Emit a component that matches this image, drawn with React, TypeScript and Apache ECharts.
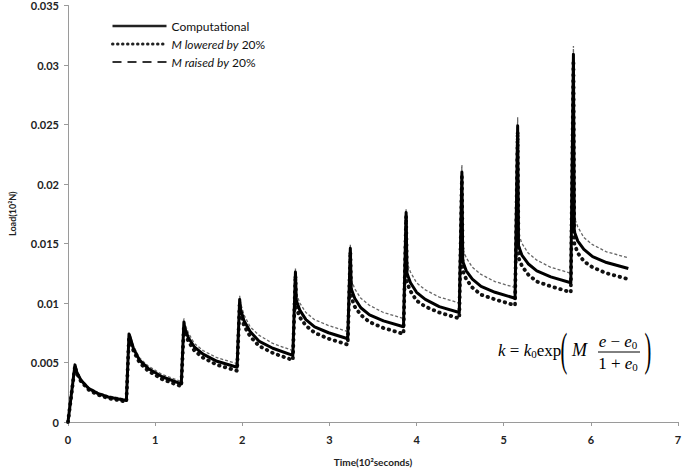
import React, { useEffect, useRef } from "react";
import * as echarts from "echarts";

const time = [
  0, 0.08, 0.1, 0.15, 0.24, 0.34, 0.46, 0.67,
  0.7, 0.71, 0.75, 0.82, 0.92, 1.08, 1.3,
  1.33, 1.34, 1.38, 1.45, 1.55, 1.71, 1.94,
  1.97, 1.98, 2.02, 2.09, 2.19, 2.35, 2.58,
  2.61, 2.62, 2.66, 2.73, 2.83, 2.99, 3.21,
  3.24, 3.25, 3.29, 3.36, 3.46, 3.62, 3.85,
  3.88, 3.89, 3.93, 4.0, 4.1, 4.26, 4.49,
  4.52, 4.53, 4.57, 4.64, 4.74, 4.9, 5.13,
  5.16, 5.17, 5.21, 5.28, 5.38, 5.54, 5.77,
  5.8, 5.81, 5.85, 5.92, 6.02, 6.18, 6.43,
];

const computational = [
  0, 0.0048, 0.0042, 0.0035, 0.0028, 0.0024, 0.0021, 0.0018,
  0.0074, 0.0072, 0.0062, 0.0052, 0.0045, 0.0038, 0.0032,
  0.0084, 0.0079, 0.0071, 0.0063, 0.0057, 0.0051, 0.0046,
  0.0103, 0.0095, 0.0085, 0.0076, 0.0068, 0.0062, 0.0056,
  0.0126, 0.0102, 0.0094, 0.0086, 0.008, 0.0075, 0.007,
  0.0146, 0.0112, 0.0104, 0.0096, 0.009, 0.0085, 0.008,
  0.0176, 0.0125, 0.0117, 0.0109, 0.0103, 0.0097, 0.0092,
  0.021, 0.0135, 0.0127, 0.012, 0.0114, 0.0109, 0.0104,
  0.0249, 0.0148, 0.014, 0.0133, 0.0127, 0.0122, 0.0117,
  0.0309, 0.016, 0.0152, 0.0145, 0.0139, 0.0134, 0.0129,
];

const raised = [
  0, 0.0049, 0.0043, 0.0036, 0.0029, 0.0025, 0.0022, 0.0019,
  0.0075, 0.0074, 0.0064, 0.0054, 0.0047, 0.004, 0.0034,
  0.0087, 0.0083, 0.0075, 0.0066, 0.006, 0.0054, 0.0049,
  0.0106, 0.01, 0.009, 0.008, 0.0073, 0.0066, 0.006,
  0.0129, 0.0108, 0.01, 0.0092, 0.0086, 0.0081, 0.0076,
  0.0149, 0.012, 0.0112, 0.0104, 0.0098, 0.0092, 0.0087,
  0.0179, 0.0134, 0.0126, 0.0117, 0.0111, 0.0105, 0.01,
  0.0216, 0.0146, 0.0138, 0.013, 0.0124, 0.0118, 0.0113,
  0.0256, 0.0158, 0.015, 0.0142, 0.0136, 0.013, 0.0125,
  0.0316, 0.0172, 0.0164, 0.0155, 0.0149, 0.0143, 0.0138,
];

const lowered = [
  0, 0.0047, 0.0041, 0.0034, 0.0027, 0.0023, 0.002, 0.0017,
  0.0072, 0.007, 0.006, 0.005, 0.0043, 0.0036, 0.003,
  0.0081, 0.0076, 0.0068, 0.006, 0.0054, 0.0048, 0.0043,
  0.01, 0.0091, 0.0081, 0.0072, 0.0064, 0.0058, 0.0052,
  0.0123, 0.0096, 0.0088, 0.0081, 0.0075, 0.007, 0.0065,
  0.0143, 0.0105, 0.0097, 0.009, 0.0084, 0.0079, 0.0074,
  0.0173, 0.0117, 0.011, 0.0102, 0.0097, 0.0092, 0.0087,
  0.0206, 0.0127, 0.012, 0.0113, 0.0107, 0.0103, 0.0098,
  0.0244, 0.0138, 0.0131, 0.0124, 0.0118, 0.0114, 0.0109,
  0.0304, 0.015, 0.0142, 0.0135, 0.013, 0.0125, 0.012,
];

const seriesNames = ["Computational", "M lowered by 20%", "M raised by 20%"];
const yTickLabels = ["0", "0.005", "0.01", "0.015", "0.02", "0.025", "0.03", "0.035"];
const xTickLabels = ["0", "1", "2", "3", "4", "5", "6", "7"];

const pairs = (vals: number[]) => time.map((t, i) => [t, vals[i]]);

const FONT = "Lato, 'Liberation Sans', sans-serif";
const SERIF = "'Liberation Serif', 'DejaVu Serif', serif";

export default function App() {
  const ref = useRef<HTMLDivElement>(null);
  useEffect(() => {
    const chart = echarts.init(ref.current!, null, { renderer: "svg" });
    const option: any = {
      animation: false,
      backgroundColor: "#fff",
      color: ["#000", "#111", "#666"],
      grid: { left: 63, right: 7, top: 3, bottom: 52, containLabel: false },
      legend: {
        orient: "vertical",
        left: 106,
        top: 15,
        itemWidth: 54,
        itemHeight: 14,
        itemGap: 6,
        itemStyle: { opacity: 0 },
        data: [
          { name: seriesNames[0], itemStyle: { opacity: 0 }, lineStyle: { width: 2.5, color: "#222" } },
          { name: seriesNames[1], itemStyle: { opacity: 0 }, lineStyle: { width: 3, type: [0.5, 4.5], cap: "round", color: "#222" } },
          { name: seriesNames[2], itemStyle: { opacity: 0 }, lineStyle: { width: 2, type: [9, 6], color: "#333" } },
        ],
        formatter: (name: string) => name.replace(/^(M \w+ by)/, "{it|$1}"),
        textStyle: {
          fontFamily: FONT,
          fontSize: 12,
          color: "#111",
          rich: {
            it: { fontFamily: FONT, fontSize: 12, fontStyle: "italic", color: "#111" },
          },
        },
      },
      xAxis: {
        type: "value",
        min: 0,
        max: 7,
        interval: 1,
        name: "Time(10²seconds)",
        nameLocation: "middle",
        nameGap: 35,
        nameTextStyle: { fontFamily: FONT, fontSize: 10, fontWeight: "bold", color: "#222" },
        axisLine: { show: true, lineStyle: { color: "#9a9a9a", width: 1 } },
        axisTick: { show: true, length: 4, lineStyle: { color: "#9a9a9a" } },
        splitLine: { show: false },
        axisLabel: {
          margin: 12,
          fontFamily: FONT,
          fontSize: 11,
          fontWeight: "bold",
          color: "#222",
          formatter: (v: number) => xTickLabels[Math.round(v)] ?? String(v),
        },
      },
      yAxis: {
        type: "value",
        min: 0,
        max: 0.035,
        interval: 0.005,
        name: "Load(10²N)",
        nameLocation: "middle",
        nameGap: 51,
        nameRotate: 90,
        nameTextStyle: { fontFamily: FONT, fontSize: 9, fontWeight: "bold", color: "#222" },
        axisLine: { show: true, lineStyle: { color: "#9a9a9a", width: 1 } },
        axisTick: { show: true, length: 4, lineStyle: { color: "#9a9a9a" } },
        splitLine: { show: false },
        axisLabel: {
          margin: 9,
          fontFamily: FONT,
          fontSize: 11,
          fontWeight: "bold",
          color: "#222",
          formatter: (v: number) => yTickLabels[Math.round(v / 0.005)] ?? String(v),
        },
      },
      series: [
        {
          name: seriesNames[0],
          type: "line",
          data: pairs(computational),
          symbol: "none",
          z: 5,
          itemStyle: { color: "#000" },
          lineStyle: { color: "#000", width: 3, join: "round" },
        },
        {
          name: seriesNames[1],
          type: "line",
          data: pairs(lowered),
          symbol: "none",
          z: 3,
          itemStyle: { color: "#111" },
          lineStyle: { color: "#111", width: 3.8, type: [0.5, 5.5], cap: "round" },
        },
        {
          name: seriesNames[2],
          type: "line",
          data: pairs(raised),
          symbol: "none",
          z: 4,
          itemStyle: { color: "#666" },
          lineStyle: { color: "#666", width: 1.3, type: [3, 2] },
        },
      ],
      graphic: [
        {
          type: "text",
          x: 498,
          y: 350,
          style: {
            text: "{i|k} = {i|k}{s|0}exp",
            textVerticalAlign: "middle",
            fill: "#000",
            font: `17px ${SERIF}`,
            rich: {
              i: { fontFamily: SERIF, fontSize: 17, fontStyle: "italic" },
              s: { fontFamily: SERIF, fontSize: 11, padding: [7, 0, 0, 0] },
            },
          },
        },
        {
          type: "text",
          x: 564,
          y: 350,
          scaleX: 0.85,
          scaleY: 1.9,
          style: { text: "(", textAlign: "center", textVerticalAlign: "middle", fill: "#000", font: `24px ${SERIF}` },
        },
        {
          type: "text",
          x: 572,
          y: 350,
          style: { text: "M", textVerticalAlign: "middle", fill: "#000", font: `italic 18px ${SERIF}` },
        },
        {
          type: "text",
          x: 618,
          y: 341,
          style: {
            text: "{i|e} − {i|e}{s|0}",
            textAlign: "center",
            textVerticalAlign: "middle",
            fill: "#000",
            font: `17px ${SERIF}`,
            rich: {
              i: { fontFamily: SERIF, fontSize: 17, fontStyle: "italic" },
              s: { fontFamily: SERIF, fontSize: 11, padding: [7, 0, 0, 0] },
            },
          },
        },
        {
          type: "line",
          shape: { x1: 598, y1: 352, x2: 640, y2: 352 },
          style: { stroke: "#000", lineWidth: 1 },
        },
        {
          type: "text",
          x: 618,
          y: 363,
          style: {
            text: "1 + {i|e}{s|0}",
            textAlign: "center",
            textVerticalAlign: "middle",
            fill: "#000",
            font: `17px ${SERIF}`,
            rich: {
              i: { fontFamily: SERIF, fontSize: 17, fontStyle: "italic" },
              s: { fontFamily: SERIF, fontSize: 11, padding: [7, 0, 0, 0] },
            },
          },
        },
        {
          type: "text",
          x: 648,
          y: 350,
          scaleX: 0.85,
          scaleY: 1.9,
          style: { text: ")", textAlign: "center", textVerticalAlign: "middle", fill: "#000", font: `24px ${SERIF}` },
        },
      ],
    };
    chart.setOption(option);
    return () => chart.dispose();
  }, []);
  return (
    <div
      ref={ref}
      style={{ position: "absolute", left: 0, top: 0, width: 685, height: 474, background: "#fff" }}
    />
  );
}
